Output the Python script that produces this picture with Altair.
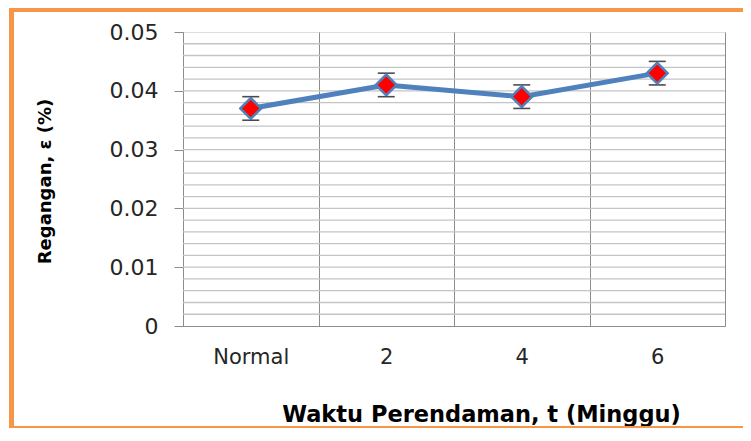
import altair as alt
import pandas as pd

categories = ["Normal", "2", "4", "6"]
strain = [0.037, 0.041, 0.039, 0.043]
err = [0.002, 0.002, 0.002, 0.002]
y_ticks = [0, 0.01, 0.02, 0.03, 0.04, 0.05]
y_minor = [round(i * 0.002, 3) for i in range(1, 25)]

df = pd.DataFrame({
    "cat": categories,
    "v": strain,
    "lo": [s - e for s, e in zip(strain, err)],
    "hi": [s + e for s, e in zip(strain, err)],
})
grid_df = pd.DataFrame({"g": y_minor})
one = pd.DataFrame({"a": [0]})

FONT = "DejaVu Sans"
xscale = alt.Scale(type="band", domain=categories, paddingInner=0, paddingOuter=0)
yscale = alt.Scale(domain=[0, 0.05], nice=False, zero=True)

xaxis = alt.Axis(
    title="Waktu Perendaman, t (Minggu)", tickBand="extent", grid=True,
    gridColor="#8c8c8c", gridWidth=1, ticks=False, domainColor="#8c8c8c",
    labelAngle=0, labelFont=FONT, labelFontSize=21, labelColor="#262626",
    labelPadding=20, titleFont=FONT, titleFontSize=22.5, titleFontWeight="bold",
    titleColor="#000000", titleX=298, titleY=88, titleBaseline="middle",
    titleAlign="center", titleAnchor="start",
)
yaxis = alt.Axis(
    title="Regangan, ε (%)", values=y_ticks, grid=False, domainColor="#8c8c8c",
    tickColor="#8c8c8c", tickSize=9,
    labelExpr="datum.value == 0 ? '0' : format(datum.value, '.2f')",
    labelFont=FONT, labelFontSize=22, labelColor="#262626", labelPadding=16,
    titleFont=FONT, titleFontSize=18, titleFontWeight="bold", titleColor="#000000",
    titleX=-138, titleY=149, titleAngle=270, titleAlign="center",
    titleBaseline="middle", titleAnchor="start",
)

hgrid = alt.Chart(grid_df).mark_rule(color="#c4c4c4", strokeWidth=1.3).encode(
    y=alt.Y("g:Q", scale=yscale, axis=yaxis)
)
line = alt.Chart(df).mark_line(color="#4F81BD", strokeWidth=5).encode(
    x=alt.X("cat:N", scale=xscale, axis=xaxis, sort=categories),
    y=alt.Y("v:Q", scale=yscale),
)
ebar = alt.Chart(df).mark_rule(color="#000000", strokeWidth=1.5).encode(
    x=alt.X("cat:N", scale=xscale, sort=categories),
    y=alt.Y("lo:Q", scale=yscale),
    y2="hi:Q",
)
cap_lo = alt.Chart(df).mark_tick(color="#000000", thickness=1.6, size=17, orient="horizontal").encode(
    x=alt.X("cat:N", scale=xscale, sort=categories),
    y=alt.Y("lo:Q", scale=yscale),
)
cap_hi = alt.Chart(df).mark_tick(color="#000000", thickness=1.6, size=17, orient="horizontal").encode(
    x=alt.X("cat:N", scale=xscale, sort=categories),
    y=alt.Y("hi:Q", scale=yscale),
)
pts = alt.Chart(df).mark_point(
    shape="diamond", filled=True, fill="#FF0000", stroke="#4F81BD",
    strokeWidth=2.5, size=430, opacity=1,
).encode(
    x=alt.X("cat:N", scale=xscale, sort=categories),
    y=alt.Y("v:Q", scale=yscale),
)

ORANGE = "#F79646"
border_left = alt.Chart(one).mark_rule(color=ORANGE, strokeWidth=5).encode(
    x=alt.value(-171.5), y=alt.value(-24), y2=alt.value(396)
)
border_top = alt.Chart(one).mark_rule(color=ORANGE, strokeWidth=4).encode(
    x=alt.value(-174), x2=alt.value(560), y=alt.value(-22)
)
border_bottom = alt.Chart(one).mark_rule(color=ORANGE, strokeWidth=2).encode(
    x=alt.value(-174), x2=alt.value(560), y=alt.value(395)
)

chart = alt.layer(
    hgrid, line, ebar, cap_lo, cap_hi, pts, border_left, border_top, border_bottom
).properties(
    width=542, height=294,
    autosize=alt.AutoSizeParams(type="none"),
    padding={"left": 175, "top": 24, "right": 18, "bottom": 102},
).configure_view(stroke="#8c8c8c", strokeWidth=1).configure(background="white")

chart.save("out.html", embed_options={"renderer": "svg", "actions": False})
